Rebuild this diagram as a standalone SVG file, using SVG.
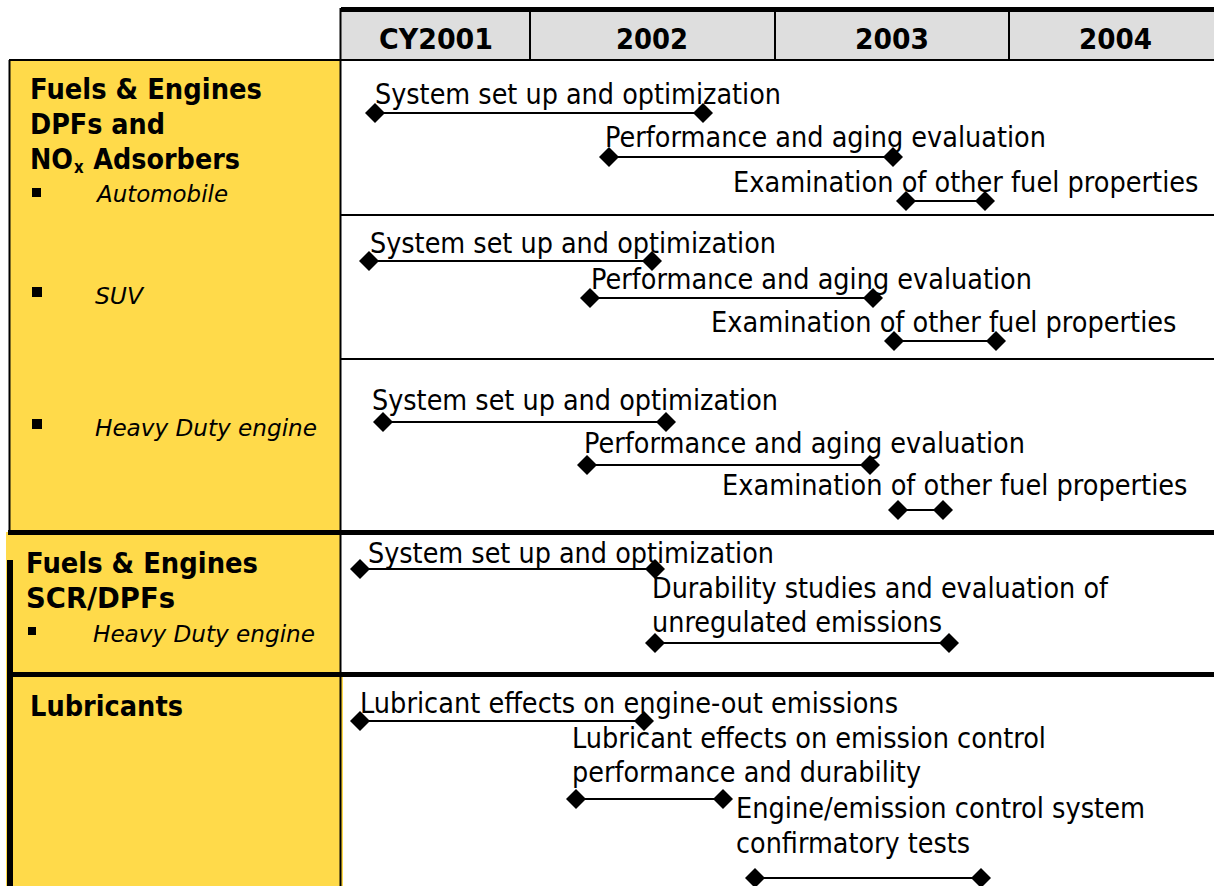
<svg xmlns="http://www.w3.org/2000/svg" width="1214" height="886" viewBox="0 0 1214 886">
  <style>
    .hd { font-family: "DejaVu Sans", Verdana, sans-serif; font-weight: bold; font-size: 28px; fill: #000; }
    .lb { font-family: "DejaVu Sans", Verdana, sans-serif; font-weight: bold; font-size: 29px; fill: #000; }
    .sub { font-size: 17px; }
    .it { font-family: "DejaVu Sans", Verdana, sans-serif; font-style: italic; font-size: 23px; fill: #000; }
    .tk { font-family: "DejaVu Sans", Verdana, sans-serif; font-size: 28px; fill: #000; }
    .bar { stroke: #000; stroke-width: 2; fill: none; marker-start: url(#dia); marker-end: url(#dia); }
    .thin { stroke: #000; stroke-width: 2; fill: none; }
    .thick { stroke: #000; stroke-width: 5; fill: none; }
    .yel { fill: #FFDA4A; }
  </style>
  <defs>
    <marker id="dia" markerUnits="userSpaceOnUse" viewBox="-11 -11 22 22" markerWidth="22" markerHeight="22" refX="0" refY="0" orient="0">
      <path d="M0,-10 L10,0 L0,10 L-10,0 Z" fill="#000"/>
    </marker>
  </defs>

  <rect width="1214" height="886" fill="#fff"/>

  <!-- year header -->
  <g id="header">
    <rect x="341" y="10" width="873" height="50" fill="#DEDEDE"/>
    <line class="thick" x1="341" y1="9.5" x2="1214" y2="9.5"/>
    <line class="thin" x1="530" y1="12" x2="530" y2="60"/>
    <line class="thin" x1="775" y1="12" x2="775" y2="60"/>
    <line class="thin" x1="1009" y1="12" x2="1009" y2="60"/>
    <text class="hd" x="379" y="49" textLength="114" lengthAdjust="spacingAndGlyphs">CY2001</text>
    <text class="hd" x="616" y="49" textLength="72" lengthAdjust="spacingAndGlyphs">2002</text>
    <text class="hd" x="855" y="49" textLength="74" lengthAdjust="spacingAndGlyphs">2003</text>
    <text class="hd" x="1079" y="49" textLength="73" lengthAdjust="spacingAndGlyphs">2004</text>
  </g>

  <!-- category column -->
  <g id="cat-dpf-nox">
    <rect class="yel" x="10" y="60" width="330" height="472"/>
    <line class="thin" x1="9.5" y1="60" x2="9.5" y2="532"/>
    <text class="lb" x="30" y="99" textLength="232" lengthAdjust="spacingAndGlyphs">Fuels &amp; Engines</text>
    <text class="lb" x="30" y="134" textLength="135" lengthAdjust="spacingAndGlyphs">DPFs and</text>
    <text class="lb" transform="translate(30,169) scale(0.88,1)"><tspan x="0" y="0">NO</tspan><tspan class="sub" x="50" y="4">x</tspan><tspan x="72" y="0">Adsorbers</tspan></text>
    <rect x="32" y="188" width="9" height="9" fill="#000"/>
    <text class="it" x="97" y="202" textLength="131" lengthAdjust="spacingAndGlyphs">Automobile</text>
    <rect x="32" y="287" width="10" height="10" fill="#000"/>
    <text class="it" x="95" y="304" textLength="48" lengthAdjust="spacingAndGlyphs">SUV</text>
    <rect x="32" y="419" width="10" height="10" fill="#000"/>
    <text class="it" x="95" y="436" textLength="222" lengthAdjust="spacingAndGlyphs">Heavy Duty engine</text>
  </g>

  <g id="cat-scr-dpf">
    <rect class="yel" x="6" y="532" width="334" height="143"/>
    <text class="lb" x="26" y="573" textLength="232" lengthAdjust="spacingAndGlyphs">Fuels &amp; Engines</text>
    <text class="lb" x="26" y="608" textLength="149" lengthAdjust="spacingAndGlyphs">SCR/DPFs</text>
    <rect x="28" y="627" width="8" height="8" fill="#000"/>
    <text class="it" x="93" y="642" textLength="222" lengthAdjust="spacingAndGlyphs">Heavy Duty engine</text>
  </g>

  <g id="cat-lubricants">
    <rect class="yel" x="6" y="675" width="337" height="211"/>
    <text class="lb" x="30" y="716" textLength="153" lengthAdjust="spacingAndGlyphs">Lubricants</text>
  </g>

  <!-- grid rules -->
  <g id="grid">
    <line class="thin" x1="340.5" y1="8" x2="340.5" y2="886"/>
    <line class="thin" x1="9" y1="60" x2="1214" y2="60"/>
    <line class="thin" x1="340" y1="215" x2="1214" y2="215"/>
    <line class="thin" x1="340" y1="359" x2="1214" y2="359"/>
    <line class="thick" x1="8" y1="532.5" x2="1214" y2="532.5"/>
    <line class="thick" x1="10" y1="674.5" x2="1214" y2="674.5"/>
    <line stroke="#000" stroke-width="6" x1="10" y1="560" x2="10" y2="886"/>
  </g>

  <!-- task labels -->
  <g id="tasks">
    <text class="tk" x="375" y="104" textLength="406" lengthAdjust="spacingAndGlyphs">System set up and optimization</text>
    <text class="tk" x="605" y="147" textLength="441" lengthAdjust="spacingAndGlyphs">Performance and aging evaluation</text>
    <text class="tk" transform="translate(733,192) scale(0.917,1)">Examination of other fuel properties</text>

    <text class="tk" x="370" y="253" textLength="406" lengthAdjust="spacingAndGlyphs">System set up and optimization</text>
    <text class="tk" x="591" y="289" textLength="441" lengthAdjust="spacingAndGlyphs">Performance and aging evaluation</text>
    <text class="tk" transform="translate(711,332) scale(0.917,1)">Examination of other fuel properties</text>

    <text class="tk" x="372" y="410" textLength="406" lengthAdjust="spacingAndGlyphs">System set up and optimization</text>
    <text class="tk" x="584" y="453" textLength="441" lengthAdjust="spacingAndGlyphs">Performance and aging evaluation</text>
    <text class="tk" transform="translate(722,495) scale(0.917,1)">Examination of other fuel properties</text>

    <text class="tk" x="368" y="563" textLength="406" lengthAdjust="spacingAndGlyphs">System set up and optimization</text>
    <text class="tk" x="652" y="598" textLength="456" lengthAdjust="spacingAndGlyphs">Durability studies and evaluation of</text>
    <text class="tk" x="652" y="632" textLength="290" lengthAdjust="spacingAndGlyphs">unregulated emissions</text>

    <text class="tk" x="360" y="713" textLength="538" lengthAdjust="spacingAndGlyphs">Lubricant effects on engine-out emissions</text>
    <text class="tk" x="572" y="748" textLength="474" lengthAdjust="spacingAndGlyphs">Lubricant effects on emission control</text>
    <text class="tk" x="572" y="782" textLength="349" lengthAdjust="spacingAndGlyphs">performance and durability</text>
    <text class="tk" x="736" y="818" textLength="409" lengthAdjust="spacingAndGlyphs">Engine/emission control system</text>
    <text class="tk" x="736" y="853" textLength="234" lengthAdjust="spacingAndGlyphs">confirmatory tests</text>
  </g>

  <!-- duration bars -->
  <g id="connectors">
    <line class="bar" x1="375" y1="113" x2="703" y2="113"/>
    <line class="bar" x1="609" y1="157" x2="893" y2="157"/>
    <line class="bar" x1="906" y1="201" x2="985" y2="201"/>
    <line class="bar" x1="369" y1="261" x2="652" y2="261"/>
    <line class="bar" x1="590" y1="298" x2="873" y2="298"/>
    <line class="bar" x1="894" y1="341" x2="996" y2="341"/>
    <line class="bar" x1="383" y1="422" x2="666" y2="422"/>
    <line class="bar" x1="587" y1="465" x2="870" y2="465"/>
    <line class="bar" x1="898" y1="510" x2="943" y2="510"/>
    <line class="bar" x1="360" y1="569" x2="655" y2="569"/>
    <line class="bar" x1="655" y1="643" x2="949" y2="643"/>
    <line class="bar" x1="360" y1="721" x2="644" y2="721"/>
    <line class="bar" x1="576" y1="799" x2="723" y2="799"/>
    <line class="bar" x1="755" y1="878" x2="981" y2="878"/>
  </g>
</svg>
